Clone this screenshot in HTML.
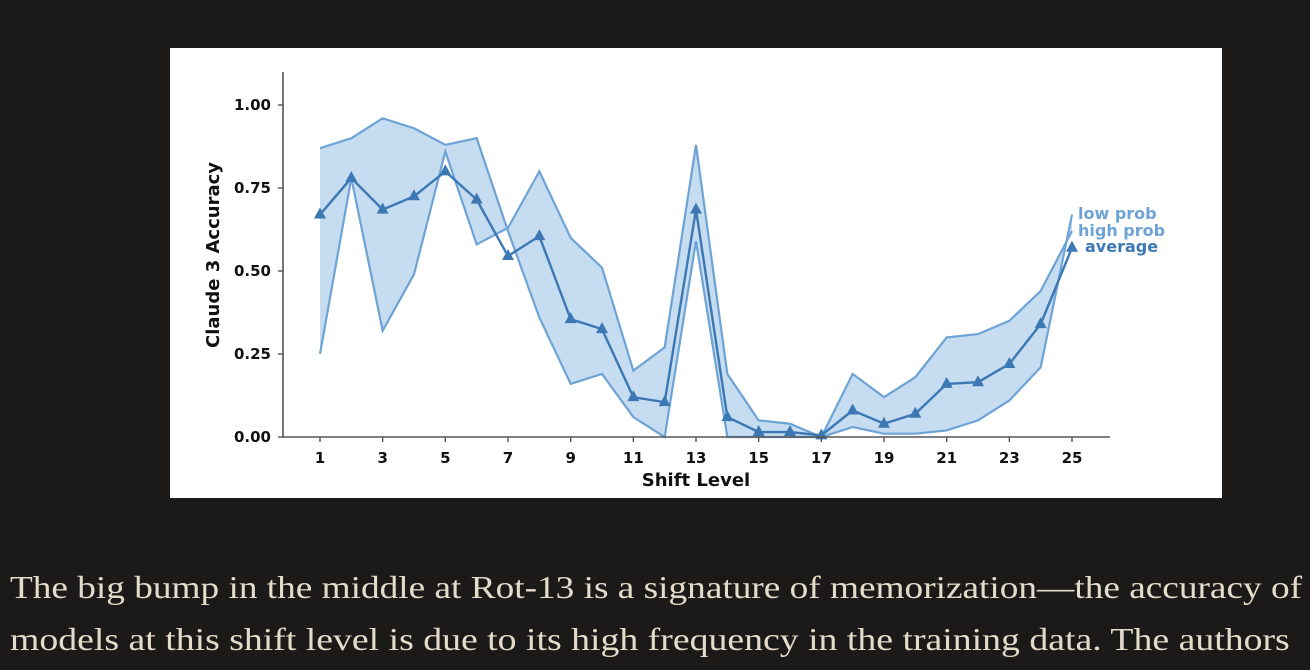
<!DOCTYPE html>
<html><head><meta charset="utf-8"><style>
body{margin:0;width:1310px;height:670px;background:#1b1a18;overflow:hidden;position:relative}
#card{position:absolute;left:170px;top:48px;width:1052px;height:450px;background:#fff}
.txt{position:absolute;left:10px;font-family:"Liberation Serif",serif;font-size:32px;color:#e4dccb;white-space:nowrap;transform-origin:0 0}
svg text{font-family:"DejaVu Sans",sans-serif;font-weight:bold}
</style></head><body>
<div id="card"></div>
<svg id="chart" width="1310" height="670" style="position:absolute;left:0;top:0"></svg>
<div class="txt" style="top:569px;transform:scaleX(1.165)">The big bump in the middle at Rot-13 is a signature of memorization—the accuracy of</div>
<div class="txt" style="top:621px;transform:scaleX(1.18)">models at this shift level is due to its high frequency in the training data. The authors</div>
<script>
const shifts=[1,2,3,4,5,6,7,8,9,10,11,12,13,14,15,16,17,18,19,20,21,22,23,24,25];
const lowProb=[0.87,0.90,0.96,0.93,0.88,0.90,0.62,0.36,0.16,0.19,0.06,0.00,0.59,0.00,0.00,0.00,0.00,0.03,0.01,0.01,0.02,0.05,0.11,0.21,0.67];
const highProb=[0.25,0.78,0.32,0.49,0.86,0.58,0.63,0.80,0.60,0.51,0.20,0.27,0.88,0.19,0.05,0.04,0.00,0.19,0.12,0.18,0.30,0.31,0.35,0.44,0.62];
const average=[0.67,0.78,0.685,0.725,0.80,0.715,0.545,0.605,0.355,0.325,0.12,0.105,0.685,0.06,0.015,0.015,0.005,0.08,0.04,0.07,0.16,0.165,0.22,0.34,0.57];
const yTicks=[0,0.25,0.5,0.75,1.0];
const yTickLabels=["0.00","0.25","0.50","0.75","1.00"];
const xTicks=[1,3,5,7,9,11,13,15,17,19,21,23,25];
const NS="http://www.w3.org/2000/svg";
const svg=document.getElementById('chart');
const X=v=>320+(v-1)*(1072-320)/24;
const Y=v=>437-v*332;
function mk(t,a){const e=document.createElementNS(NS,t);for(const k in a)e.setAttribute(k,a[k]);svg.appendChild(e);return e;}
let pts=shifts.map((s,i)=>X(s)+','+Y(lowProb[i]));
pts=pts.concat(shifts.slice().reverse().map((s,j)=>{const i=shifts.length-1-j;return X(s)+','+Y(highProb[i]);}));
let band=mk('polygon',{points:pts.join(' '),fill:'#c6dcf0',stroke:'none'});


let l1=mk('polyline',{points:shifts.map((s,i)=>X(s)+','+Y(lowProb[i])).join(' '),fill:'none',stroke:'#6ea3d6','stroke-width':2.2});


let l2=mk('polyline',{points:shifts.map((s,i)=>X(s)+','+Y(highProb[i])).join(' '),fill:'none',stroke:'#6ea3d6','stroke-width':2.2});


let la=mk('polyline',{points:shifts.map((s,i)=>X(s)+','+Y(average[i])).join(' '),fill:'none',stroke:'#3b78b4','stroke-width':2.4});


shifts.forEach((s,i)=>{const x=X(s),y=Y(average[i]);
 let m=mk('polygon',{points:`${x},${y-7} ${x-6},${y+4} ${x+6},${y+4}`,fill:'#3b78b4'});
 
 });
let ax=mk('path',{d:'M283,72 L283,437 L1110,437',fill:'none',stroke:'#555','stroke-width':1.6});


yTicks.forEach((v,i)=>{mk('line',{x1:278,x2:283,y1:Y(v),y2:Y(v),stroke:'#555','stroke-width':1.4});
 let t=mk('text',{x:271,y:Y(v)+5,'text-anchor':'end','font-size':15,fill:'#111'});t.textContent=yTickLabels[i];
 
 });
xTicks.forEach(v=>{mk('line',{x1:X(v),x2:X(v),y1:437,y2:442,stroke:'#555','stroke-width':1.4});
 let t=mk('text',{x:X(v),y:463,'text-anchor':'middle','font-size':15,fill:'#111'});t.textContent=v;
 
 });
let xl=mk('text',{x:696,y:486,'text-anchor':'middle','font-size':18,fill:'#111'});xl.textContent='Shift Level';


let yl=mk('text',{x:0,y:0,'text-anchor':'middle','font-size':18,fill:'#111',transform:'translate(219,255) rotate(-90)'});yl.textContent='Claude 3 Accuracy';


[['low prob',219,'#6ea3d6',1078],['high prob',236,'#6ea3d6',1078],['average',252,'#3b78b4',1085]].forEach(d=>{
 let t=mk('text',{x:d[3],y:d[1],'font-size':16,fill:d[2]});t.textContent=d[0];
 
 });
</script>
</body></html>
